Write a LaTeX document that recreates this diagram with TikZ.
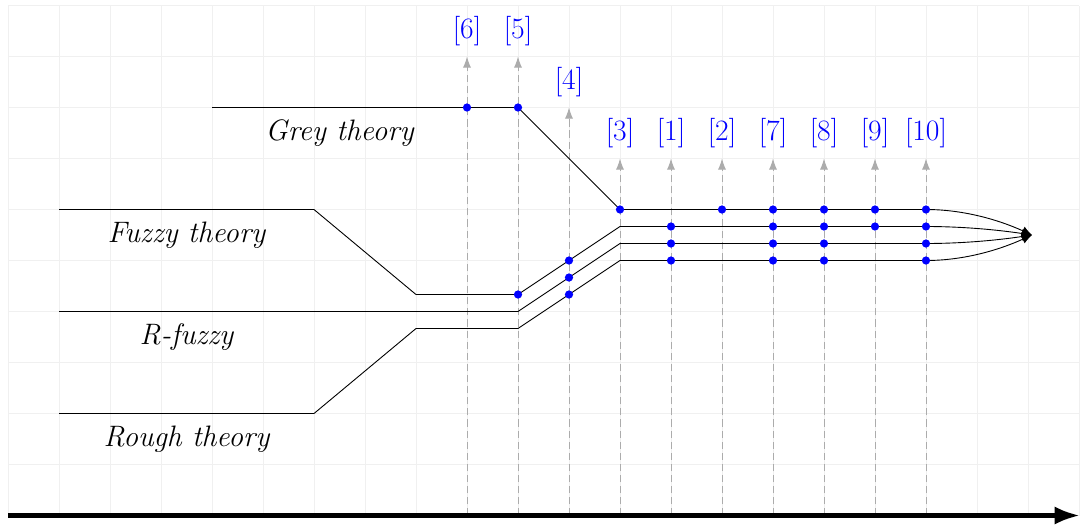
\documentclass[tikz,border=0pt]{standalone}
\usetikzlibrary{arrows.meta,calc}
\begin{document}
\begin{tikzpicture}[
  gridline/.style={draw=gray!12, line width=0.5pt},
  theoryline/.style={black, line width=0.5pt},
  mergetip/.style={-{Latex[length=2mm,width=1.8mm]}},
  refline/.style={gray!65, dash pattern=on 4pt off 2.2pt, line width=0.55pt,
                  -{Latex[length=2.2mm,width=1.6mm]}},
  reflabel/.style={text=blue, font=\fontsize{16.5pt}{20pt}\selectfont, inner sep=0pt},
  dot/.style={circle, fill=blue, inner sep=0pt, minimum size=4.6pt},
  tname/.style={font=\fontsize{16.5pt}{20pt}\selectfont\itshape, inner sep=0pt},
  timeaxis/.style={line width=2.6pt, -{Latex[length=5mm,width=3.6mm]}}
]
\useasboundingbox (-0.157,-0.186) rectangle (21.02,10.108);

% background grid
\draw[gridline] (0,0) grid (21,10);

% reference markers with their citations
\foreach \x/\top/\lab in {9/9/6, 10/9/5, 11/8/4, 12/7/3, 13/7/1,
                          14/7/2, 15/7/7, 16/7/8, 17/7/9, 18/7/10} {
  \coordinate (b\lab) at (\x,0);
  \coordinate (t\lab) at (\x,\top);
  \draw[refline] (b\lab) -- (t\lab);
  \node[reflabel] (l\lab) at (\x,\top+0.5) {[\lab]};
}

% common merge point
\coordinate (merge) at (20.08,5.5);
% second control point shared by the merging curves
\coordinate (mc) at (19.35,5.5);

% Grey theory
\coordinate (g0) at (4,8);
\coordinate (g1) at (10,8);
\coordinate (g2) at (12,6);
\coordinate (g3) at (18,6);
\coordinate (gc) at (18.67,6);
\draw[theoryline, mergetip] (g0) -- (g1) -- (g2) -- (g3)
  .. controls (gc) and ($(mc)+(0,0.33)$) .. (merge);

% Fuzzy theory
\coordinate (f0) at (1,6);
\coordinate (f1) at (6,6);
\coordinate (f2) at (8,13/3);
\coordinate (f3) at (10,13/3);
\coordinate (f4) at (12,17/3);
\coordinate (f5) at (18,17/3);
\coordinate (fc) at (18.67,17/3);
\draw[theoryline, mergetip] (f0) -- (f1) -- (f2) -- (f3) -- (f4) -- (f5)
  .. controls (fc) and ($(mc)+(0,0.11)$) .. (merge);

% R-fuzzy
\coordinate (r0) at (1,4);
\coordinate (r1) at (10,4);
\coordinate (r2) at (12,16/3);
\coordinate (r3) at (18,16/3);
\coordinate (rc) at (18.67,16/3);
\draw[theoryline, mergetip] (r0) -- (r1) -- (r2) -- (r3)
  .. controls (rc) and ($(mc)+(0,-0.11)$) .. (merge);

% Rough theory
\coordinate (h0) at (1,2);
\coordinate (h1) at (6,2);
\coordinate (h2) at (8,11/3);
\coordinate (h3) at (10,11/3);
\coordinate (h4) at (12,5);
\coordinate (h5) at (18,5);
\coordinate (hc) at (18.67,5);
\draw[theoryline, mergetip] (h0) -- (h1) -- (h2) -- (h3) -- (h4) -- (h5)
  .. controls (hc) and ($(mc)+(0,-0.33)$) .. (merge);

% theory names
\node[tname] (ngrey)  at (6.5,7.5) {Grey theory};
\node[tname] (nfuzzy) at (3.5,5.5) {Fuzzy theory};
\node[tname] (nrfuzz) at (3.5,3.5) {R-fuzzy};
\node[tname] (nrough) at (3.5,1.5) {Rough theory};

% contributions of each reference
\foreach \p [count=\i] in {(9,8),(10,8),(10,13/3),(11,5),(11,14/3),(11,13/3),
    (12,6),(13,17/3),(13,16/3),(13,5),(14,6),
    (15,6),(15,17/3),(15,16/3),(15,5),
    (16,6),(16,17/3),(16,16/3),(16,5),
    (17,6),(17,17/3),
    (18,6),(18,17/3),(18,16/3),(18,5)}
  \node[dot] (d\i) at \p {};

% time axis
\coordinate (axstart) at (0,0);
\coordinate (axend) at (21.02,0);
\draw[timeaxis] (axstart) -- (axend);
\end{tikzpicture}
\end{document}
